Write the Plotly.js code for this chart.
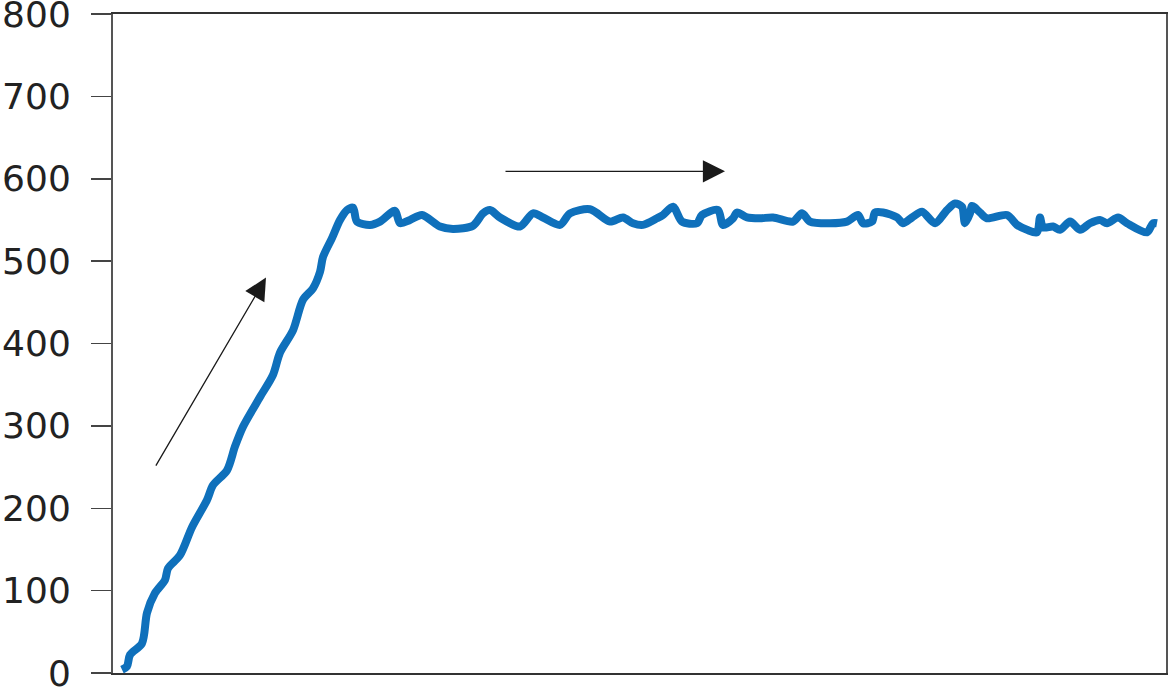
<!DOCTYPE html>
<html>
<head>
<meta charset="utf-8">
<script src="https://cdn.plot.ly/plotly-3.0.1.min.js"></script>
<style>
  html, body { margin: 0; padding: 0; background: #fff; }
  #chart { width: 1168px; height: 689px; }
</style>
</head>
<body>
<div id="chart"></div>
<script>
// sample position along the run (no axis labels in the original)
var t = [9, 14, 17, 29, 34, 42, 52, 55, 67, 79, 94, 100, 114, 122, 130, 147, 160, 167, 180, 190,
  200, 207, 210, 219, 227, 234, 240, 244,
  257, 267, 282, 287, 297, 309, 327, 340, 360, 370, 377, 387, 407, 420, 430, 447, 457, 477,
  497, 510, 520, 530, 544, 550, 560, 569, 584, 589, 605, 610, 620, 624, 634, 647, 660, 680,
  689, 697, 717, 734, 745, 750, 759, 762, 770, 784, 790, 799, 809, 822, 834, 842, 849, 852,
  857, 859, 867, 874, 894, 904, 914, 924, 927, 930, 940, 947, 957, 967, 977, 987, 994, 1005,
  1014, 1034, 1040, 1044];

var load = [4, 8, 22, 36, 73, 97, 113, 127, 143, 177, 210, 228, 246, 275, 299, 335, 362, 389, 416, 453,
  467, 487, 505, 528, 550, 562, 565, 548,
  544, 548, 561, 546, 550, 556, 542, 539, 543, 558, 562, 553, 542, 558, 553, 544, 558, 563,
  548, 553, 546, 544, 552, 556, 566, 548, 546, 556, 562, 544, 552, 559, 553, 552, 553, 548,
  558, 548, 546, 548, 556, 546, 548, 559, 559, 553, 546, 553, 560, 546, 562, 570, 566, 546,
  558, 567, 559, 552, 556, 544, 538, 535, 553, 541, 542, 538, 548, 538, 546, 550, 546, 553,
  546, 535, 546, 546];

var yTicks = [0, 100, 200, 300, 400, 500, 600, 700, 800];

// arrows: [tailX, tailY, tipX, tipY]
var riseArrow = [42, 250, 153, 480];
var flatArrow = [391, 609, 612, 609];

function arrow(a) {
  return {
    x: a[2], y: a[3], ax: a[0], ay: a[1],
    xref: 'x', yref: 'y', axref: 'x', ayref: 'y',
    text: '', showarrow: true,
    arrowhead: 2, arrowsize: 3.4, arrowwidth: 1.3, arrowcolor: '#1a1a1a'
  };
}

var trace = {
  x: t,
  y: load,
  type: 'scatter',
  mode: 'lines',
  line: { color: '#0f70bb', width: 8, shape: 'spline', smoothing: 0.8 },
  hoverinfo: 'skip'
};

var layout = {
  width: 1168,
  height: 689,
  margin: { l: 113, r: 2, t: 14, b: 16 },
  paper_bgcolor: '#fff',
  plot_bgcolor: '#fff',
  showlegend: false,
  xaxis: {
    range: [0, 1053],
    showgrid: false, zeroline: false,
    showticklabels: false, ticks: '',
    showline: true, mirror: true, linecolor: '#333', linewidth: 2
  },
  yaxis: {
    range: [0, 800],
    tickvals: yTicks,
    showgrid: false, zeroline: false,
    ticks: 'outside', ticklen: 20, tickwidth: 1.5, tickcolor: '#444',
    ticklabelstandoff: 13,
    ticklabeloverflow: 'allow',
    tickfont: { family: 'DejaVu Sans', size: 36, color: '#222' },
    showline: true, mirror: true, linecolor: '#555', linewidth: 2
  },
  annotations: [arrow(riseArrow), arrow(flatArrow)]
};

Plotly.newPlot('chart', [trace], layout, { staticPlot: true, displayModeBar: false });
</script>
</body>
</html>
